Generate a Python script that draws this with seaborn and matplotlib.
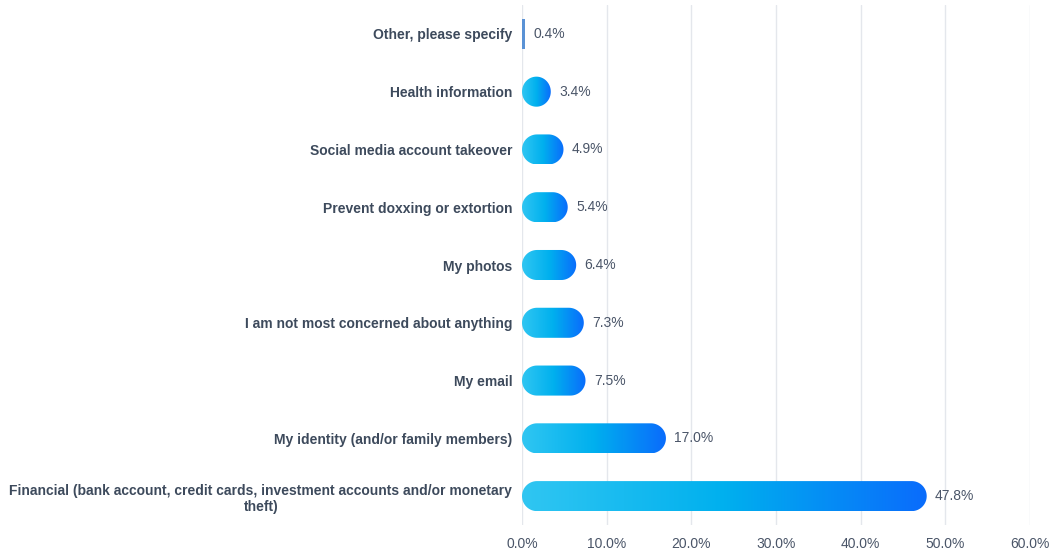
import numpy as np
import pandas as pd
import seaborn as sns
import matplotlib.pyplot as plt
import matplotlib.ticker as ticker
from matplotlib.path import Path
from matplotlib.patches import PathPatch
from matplotlib.colors import LinearSegmentedColormap
from matplotlib.transforms import IdentityTransform

categories = [
    "Other, please specify",
    "Health information",
    "Social media account takeover",
    "Prevent doxxing or extortion",
    "My photos",
    "I am not most concerned about anything",
    "My email",
    "My identity (and/or family members)",
    "Financial (bank account, credit cards, investment accounts and/or monetary\ntheft)",
]
shares = [0.4, 3.4, 4.9, 5.4, 6.4, 7.3, 7.5, 17.0, 47.8]
x_ticks = [0, 10, 20, 30, 40, 50, 60]

label_color = "#3d4a5c"
value_color = "#4a5568"

sns.set_theme(style="white")
plt.rcParams["font.family"] = ["Liberation Sans", "DejaVu Sans"]

df = pd.DataFrame({"Concern": categories, "Share": shares})

fig = plt.figure(figsize=(10.53, 5.53), dpi=100)
ax = fig.add_axes([522 / 1053, 28 / 553, 508 / 1053, 520 / 553])

sns.barplot(data=df, x="Share", y="Concern", orient="h", width=0.52,
            color="#00b0ee", ax=ax)

ax.set_xlim(0, 60)
ax.set_ylim(len(categories) - 0.5, -0.5)


def pill_path(px0, py0, pw, ph):
    # rectangle with semicircular ends, in pixel coords (flat when very thin)
    ry = ph / 2
    rx = min(ry, pw / 2) if pw > ph / 3 else 0.0
    cy = py0 + ry
    if rx == 0:
        pts = [(px0, py0), (px0 + pw, py0), (px0 + pw, py0 + ph), (px0, py0 + ph), (px0, py0)]
        return Path(pts, closed=True)
    t_right = np.linspace(-np.pi / 2, np.pi / 2, 40)
    t_left = np.linspace(np.pi / 2, 3 * np.pi / 2, 40)
    right = np.column_stack([px0 + pw - rx + rx * np.cos(t_right), cy + ry * np.sin(t_right)])
    left = np.column_stack([px0 + rx + rx * np.cos(t_left), cy + ry * np.sin(t_left)])
    pts = np.vstack([right, left, right[:1]])
    return Path(pts, closed=True)


# gradient pill bars: hide seaborn's rectangles, paint a clipped gradient instead
cmap = LinearSegmentedColormap.from_list("bar", ["#30c6f2", "#00b0ee", "#0a6cfc"])
grad = np.linspace(0, 1, 256).reshape(1, -1)
for p in list(ax.patches):
    x0, y0, w, h = p.get_x(), p.get_y(), p.get_width(), p.get_height()
    p.set_visible(False)
    (px0, py0) = ax.transData.transform((x0, y0 + h))
    (px1, py1) = ax.transData.transform((x0 + w, y0))
    clip = PathPatch(pill_path(px0, min(py0, py1), px1 - px0, abs(py1 - py0)),
                     transform=IdentityTransform(), facecolor="none", edgecolor="none")
    im = ax.imshow(grad, cmap=cmap, extent=(x0, x0 + w, y0 + h, y0),
                   aspect="auto", interpolation="bicubic", zorder=2)
    if w < 1:
        im.set_cmap(LinearSegmentedColormap.from_list("thin", ["#5b93d6", "#5b93d6"]))
    im.set_clip_path(clip)

ax.set_xlim(0, 60)
ax.set_ylim(len(categories) - 0.5, -0.5)
ax.set_aspect("auto")

for i, v in enumerate(shares):
    ax.annotate(f"{v:.1f}%", xy=(v, i), xytext=(6, 0), textcoords="offset points",
                va="center", ha="left", fontsize=10, color=value_color)

ax.set_xticks(x_ticks)
ax.xaxis.set_major_formatter(ticker.FuncFormatter(lambda x, pos: f"{x:.1f}%"))
ax.tick_params(axis="x", length=0, pad=9, labelsize=10, labelcolor=value_color)
ax.tick_params(axis="y", length=0, pad=7, labelsize=10, labelcolor=label_color)
for lbl in ax.get_yticklabels():
    lbl.set_fontweight("bold")
    lbl.set_multialignment("center")

ax.set_xlabel("")
ax.set_ylabel("")
ax.grid(axis="x", color="#e4e7ec", linewidth=1)
ax.grid(axis="y", visible=False)
ax.set_axisbelow(True)
for s in ax.spines.values():
    s.set_visible(False)

fig.savefig("out.png", dpi=100)
